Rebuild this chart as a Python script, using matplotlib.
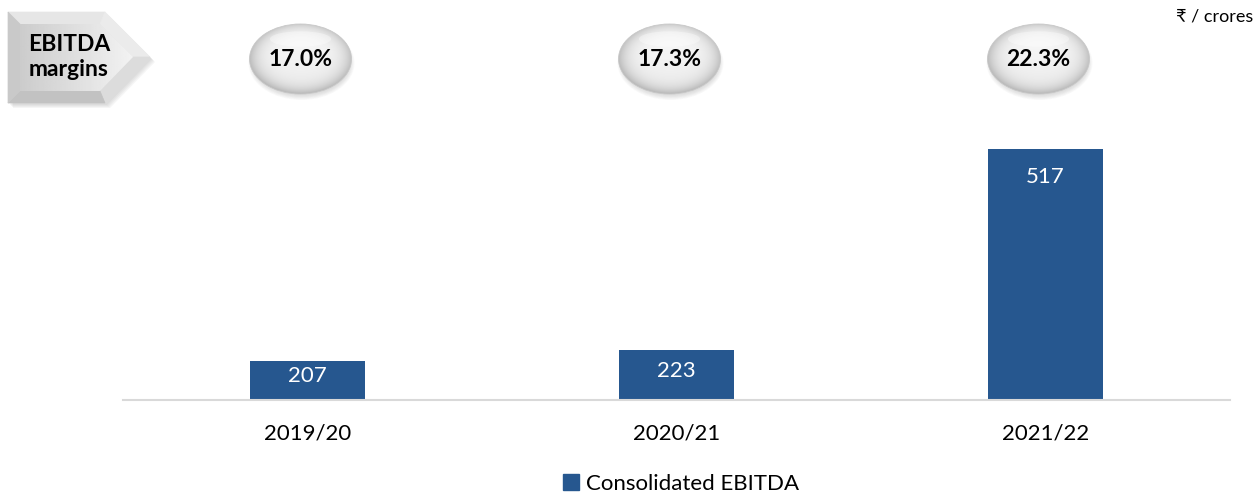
import numpy as np
import matplotlib.pyplot as plt
from matplotlib.patches import Ellipse, Polygon

# data
years = ["2019/20", "2020/21", "2021/22"]
ebitda = [207, 223, 517]
margins = ["17.0%", "17.3%", "22.3%"]

W, H = 1257, 496
bar_color = "#26578f"
plt.rcParams["font.family"] = ["Lato", "DejaVu Sans"]

fig = plt.figure(figsize=(W / 100, H / 100), dpi=100)


def px_axes(x0, y0, w, h):
    # axes placed in pixel units, measured from the top-left corner
    a = fig.add_axes([x0 / W, 1 - (y0 + h) / H, w / W, h / H])
    a.set_xlim(0, w)
    a.set_ylim(0, h)
    a.axis("off")
    return a


ax = fig.add_axes([123 / W, 96.5 / H, 1107 / W, 379.5 / H])
ymin = 151
x = np.arange(len(years))
ax.bar(x, ebitda, width=0.314, color=bar_color, zorder=2)
ax.set_xlim(-0.5, 2.5)
ax.set_ylim(ymin, 706)
for s in ["top", "left", "right"]:
    ax.spines[s].set_visible(False)
ax.spines["bottom"].set_color("#d9d9d9")
ax.spines["bottom"].set_linewidth(1.5)
ax.set_yticks([])
ax.set_xticks(x)
ax.set_xticklabels(years, fontsize=16)
ax.tick_params(axis="x", length=0, pad=17)

for xi, v in zip(x, ebitda):
    ypos = max(v - 41, (v + ymin) / 2 + 6)
    ax.text(xi, ypos, str(v), color="white", fontsize=16, ha="center", va="center")

# legend
fig.legend(handles=[plt.Rectangle((0, 0), 1, 1, color=bar_color)],
           labels=["Consolidated EBITDA"], loc="center",
           bbox_to_anchor=(681 / W, 1 - 484 / H), frameon=False, fontsize=16,
           handlelength=0.75, handleheight=0.75, handletextpad=0.3)

fig.text(1253 / W, 1 - 16 / H, "₹ / crores", ha="right", va="center", fontsize=13)

# margin ovals
ow, oh = 120, 96
ecx, ecy, ew, eh = 60, 50, 102, 70
gx, gy = np.meshgrid(np.linspace(0, ow, 240), np.linspace(0, oh, 192))
u = (gx - ecx) / (ew / 2)
v = (gy - ecy) / (eh / 2)
r = np.sqrt(u ** 2 + v ** 2)
shade = 0.95 + 0.03 * v - 0.20 * r ** 5
shade = np.clip(shade, 0, 1)

fig.canvas.draw()
for xi, m in zip(x, margins):
    cx = ax.transData.transform((xi, ymin))[0] - 7
    oa = px_axes(cx - ecx, 59 - (oh - ecy), ow, oh)
    for k in range(8):
        oa.add_patch(Ellipse((ecx + 1, ecy - 4), ew + 4 - k * 1.5, eh + 4 - k * 1.5,
                             facecolor="#7a7a7a", alpha=0.035, lw=0, zorder=1))
    ell = Ellipse((ecx, ecy), ew, eh, facecolor="none", edgecolor="#c8c8c8",
                  lw=0.6, zorder=3)
    oa.add_patch(ell)
    im = oa.imshow(shade, cmap="gray", vmin=0, vmax=1, extent=(0, ow, 0, oh),
                   origin="lower", interpolation="bilinear", zorder=2)
    im.set_clip_path(ell)
    oa.add_patch(Ellipse((ecx, ecy + 20), ew * 0.6, eh * 0.22,
                         facecolor="white", alpha=0.35, lw=0, zorder=3))
    oa.text(ecx, ecy, m, ha="center", va="center", fontsize=16.5,
            fontweight="bold", zorder=4)

# EBITDA margins arrow (bevelled pentagon)
aa = px_axes(0, 0, 170, 120)


def flip(p):
    return [(px, 120 - py) for px, py in p]


A, B, C, D, E = (8, 12), (105, 12), (150, 57), (105, 103), (8, 103)
a, b, c, d, e = (20, 24), (100, 24), (133, 57), (100, 91), (20, 91)
for k in range(4):
    off = 2 + k
    aa.add_patch(Polygon(flip([(px + off, py + off) for px, py in [A, B, C, D, E]]),
                         closed=True, facecolor="#8a8a8a", alpha=0.08, lw=0, zorder=1))
bevels = [([A, B, b, a], "#e6e6e6"), ([B, C, c, b], "#ebebeb"),
          ([C, D, d, c], "#dcdcdc"), ([D, E, e, d], "#c2c2c2"),
          ([E, A, a, e], "#c9c9c9")]
for poly, col in bevels:
    aa.add_patch(Polygon(flip(poly), closed=True, facecolor=col,
                         edgecolor=col, lw=0.5, zorder=2))
inner = Polygon(flip([a, b, c, d, e]), closed=True, facecolor="none", lw=0, zorder=2)
aa.add_patch(inner)
grad = np.tile(np.linspace(0.80, 0.95, 100), (40, 1))
im2 = aa.imshow(grad, cmap="gray", vmin=0, vmax=1, extent=(20, 133, 120 - 91, 120 - 24),
                origin="lower", aspect="auto", zorder=3)
im2.set_clip_path(inner)
aa.text(69, 120 - 57, "EBITDA\nmargins", ha="center", va="center",
        multialignment="center", fontsize=16.5, fontweight="bold",
        linespacing=1.25, zorder=4)

fig.savefig("out.png", dpi=100)
